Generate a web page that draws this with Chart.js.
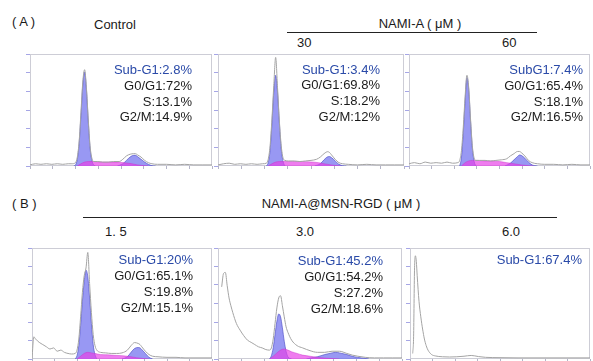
<!DOCTYPE html>
<html><head><meta charset="utf-8">
<script src="https://cdn.jsdelivr.net/npm/chart.js@4.4.0/dist/chart.umd.min.js"></script>
<style>
html,body{margin:0;padding:0;background:#fff;}
body{width:593px;height:361px;position:relative;overflow:hidden;font-family:"Liberation Sans",Arial,sans-serif;color:#1a1a1a;}
.t{position:absolute;font-size:13px;line-height:16px;white-space:nowrap;}
.c{text-align:center;}
.stats{position:absolute;font-size:13px;line-height:15.8px;text-align:right;white-space:nowrap;color:#1a1a1a;}
.stats .sub{color:#2a4aa8;}
.rule{position:absolute;height:1px;background:#222;}
canvas{position:absolute;}
</style></head><body>
<script>
// ---------- Data ----------
// (A) Control
const ctrlTotalX = [0,3,6,9,12,15,18,21,23,25,26,27,28,29,30,31,32,33,34,35,37,40,43,46,49,51,53,55,57,58,59,61,63,65,67,70,75,80,85,90,95,100];
const ctrlTotalY = [1,2,1.5,2,1.5,2,1.5,2,2,3,8,22,48,75,86,70,42,18,7,4,4,3.5,3.5,4,4,6,9,10.5,11,11,10,8,5,3,2,1.5,1.5,1,1.5,1,1,1];
const ctrlG1X = [24,25,26,27,28,29,30,31,32,33,34,35,36];
const ctrlG1Y = [0,1,6,20,45,72,84,68,40,16,5,1,0];
const ctrlSX = [26,28,30,32,35,40,45,50,53,56,59,62,65];
const ctrlSY = [0,2,3.5,4,4,3.5,3.5,3.2,2.7,2,1,0.4,0];
const ctrlG2X = [48,51,53,55,57,58,59,61,63,65,67,69];
const ctrlG2Y = [0,2,5,8,9.5,9.5,8.5,6,3.5,1.5,0.3,0];
const ctrlStats = ["Sub-G1:2.8%","G0/G1:72%","S:13.1%","G2/M:14.9%"];

// (A) NAMI-A 30 uM
const n30TotalX = [0,3,6,9,12,15,18,21,24,26,27,28,29,30,31,32,33,34,35,36,38,41,44,47,50,53,55,57,59,60,61,63,65,67,70,75,80,85,90,95,100];
const n30TotalY = [1,2,2.5,1.5,2,1.5,2,1.5,2,2.5,6,18,42,72,97,70,40,18,7,5,4.5,4.5,4,4.5,5,6,8,11,12.8,12,10,6,3,2,1.5,1,1.5,1,1,1,1];
const n30G1X = [26,27,28,29,30,31,32,33,34,35,36];
const n30G1Y = [0,3,14,38,66,81,66,38,15,4,0];
const n30SX = [27,29,31,33,36,40,45,50,54,57,60,63,66];
const n30SY = [0,2,3.5,4,4,4,4,3.6,3,2,1.2,0.5,0];
const n30G2X = [52,55,57,59,60,61,63,65,67,69];
const n30G2Y = [0,2,5.5,8.2,8.4,7.5,4.5,1.5,0.3,0];
const n30Stats = ["Sub-G1:3.4%","G0/G1:69.8%","S:18.2%","G2/M:12%"];

// (A) NAMI-A 60 uM
const n60TotalX = [0,3,6,9,12,15,18,21,24,27,28,29,30,31,32,33,34,35,36,37,39,42,45,48,51,54,56,58,60,61,62,64,66,68,71,75,80,85,90,95,100];
const n60TotalY = [2,3,2,3.5,2.5,3,2.5,3.5,2.5,3,5,14,35,62,81,70,42,18,7,5,5,5,4.5,5,5.5,6.5,9,11,13,13,12,9,5,3,2,1.5,1.5,1,1.5,1,1];
const n60G1X = [28,29,30,31,32,33,34,35,36,37];
const n60G1Y = [0,8,30,58,79,68,40,16,4,0];
const n60SX = [29,31,33,35,38,42,46,50,54,58,62,66,69];
const n60SY = [0,3,4.5,5,5,4.5,4.5,4,3,2,1,0.2,0];
const n60G2X = [53,56,58,60,61,62,64,66,68,71];
const n60G2Y = [0,2.5,5.5,8.5,9.8,9.5,7,3.5,1,0];
const n60Stats = ["SubG1:7.4%","G0/G1:65.4%","S:18.1%","G2/M:16.5%"];

// (B) NAMI-A@MSN-RGD 1.5 uM
const r15TotalX = [0,1,2,4,6,8,10,12,14,16,18,20,22,24,25,26,27,28,29,30,31,32,33,34,35,36,38,41,44,47,50,53,55,57,59,60,61,63,65,67,70,75,80,85,90,95,100];
const r15TotalY = [0,20,18,15,13,11,9,10,7,8,6,5,4.5,5,8,18,38,60,75,82,96,68,42,22,12,8,6,5.5,5,5,5.5,8,12,14.8,14,13,11,7,4,2.5,2,1.5,1.5,1,1,1,1];
const r15G1X = [24,25,26,27,28,29,30,31,32,33,34,35,36];
const r15G1Y = [0,3,12,30,52,70,80,74,55,32,13,4,0];
const r15SX = [25,27,29,31,33,35,38,42,46,50,54,58,62,65];
const r15SY = [0,2.5,5,6,5.5,5,4,3.8,3.3,3,2.3,1.2,0.4,0];
const r15G2X = [50,53,55,57,59,60,61,63,65,67];
const r15G2Y = [0,2,6,9.5,10.3,10,8.5,5,1.5,0];
const r15Stats = ["Sub-G1:20%","G0/G1:65.1%","S:19.8%","G2/M:15.1%"];

// (B) NAMI-A@MSN-RGD 3.0 uM
const r30TotalX = [2,3,4,5,6,7,8,10,12,14,16,18,20,22,24,26,28,29,30,31,32,33,34,35,36,37,38,40,43,46,50,54,58,62,66,70,73,76,80,85,90,95,100];
const r30TotalY = [65,77,78,66,55,48,42,32,26,21,17,15,13,11,10,8.5,8,10,18,32,46,55,57,48,38,29,24,17,12,10,7.5,6,6,7,7,5,3.5,2.5,1.5,1,1,1,1];
const r30G1X = [28,29,30,31,32,33,34,35,36,37,38,40];
const r30G1Y = [0,3,10,22,34,40.6,38,28,16,7,2,0];
const r30SX = [28,30,32,34,36,38,40,43,46,50,54,58,62,66];
const r30SY = [0,2.5,5.5,8,9,8,6.5,5,3.5,2.5,1.5,0.8,0.4,0];
const r30G2X = [48,50,54,58,62,64,66,70,74,78,82];
const r30G2Y = [0,0.8,2,4,5.5,6,5.5,4,2,1,0];
const r30Stats = ["Sub-G1:45.2%","G0/G1:54.2%","S:27.2%","G2/M:18.6%"];

// (B) NAMI-A@MSN-RGD 6.0 uM
const r60TotalX = [1.5,2,2.5,3,3.5,4,5,6,7,8,9,10,12,14,18,22,26,30,34,38,42,50,60,70,80,90,100];
const r60TotalY = [5,20,80,93,88,75,52,38,27,18,12,8,4,2.8,2,1.8,2,2.5,3.2,2.2,1.5,1.2,1,1,1,1,1];
const r60Stats = ["Sub-G1:67.4%"];

// Header / tick labels
const rowALabel = "( A )", rowBLabel = "( B )";
const controlLabel = "Control";
const groupALabel = "NAMI-A ( μM )";
const groupBLabel = "NAMI-A@MSN-RGD ( μM )";
const doseALabels = ["30","60"];
const doseBLabels = ["1. 5","3.0","6.0"];

// ---------- Layout ----------
function addText(txt, css, cls){
  const d=document.createElement('div'); d.className=cls||'t'; d.textContent=txt;
  Object.assign(d.style, css); document.body.appendChild(d); return d;
}
function addRule(l,w,t){ const d=document.createElement('div'); d.className='rule';
  Object.assign(d.style,{left:l+'px',width:w+'px',top:t+'px'}); document.body.appendChild(d); }

addText(rowALabel,{left:'12px',top:'14px'});
addText(controlLabel,{left:'94px',top:'17px'});
addText(groupALabel,{left:'320px',width:'200px',top:'16px'},'t c');
addRule(287,250,32);
addText(doseALabels[0],{left:'297px',top:'35px'});
addText(doseALabels[1],{left:'502px',top:'35px'});
addText(rowBLabel,{left:'12px',top:'196px'});
addText(groupBLabel,{left:'241px',width:'200px',top:'196px'},'t c');
addRule(83,474,217);
addText(doseBLabels[0],{left:'105px',top:'224px'});
addText(doseBLabels[1],{left:'296px',top:'224px'});
addText(doseBLabels[2],{left:'502px',top:'224px'});

const framePlugin = {
  id:'frame',
  beforeDatasetsDraw(chart){
    const a=chart.chartArea, c=chart.ctx;
    c.save(); c.strokeStyle='#cdcdd6'; c.lineWidth=1;
    c.strokeRect(Math.round(a.left)+0.5, Math.round(a.top)+0.5, Math.round(a.right-a.left)-1, Math.round(a.bottom-a.top)-1);
    c.restore();
  }
};

function pts(xs, ys){ return xs.map((x,i)=>({x:x, y:ys[i]})); }

const blueFill = 'rgba(112,112,238,0.72)', blueEdge = 'rgba(80,80,200,0.85)';

function makePanel(rect, series, stats, statsTop, statsRight, lh){
  const W = rect.r-rect.l, H = rect.b-rect.t;
  const cv = document.createElement('canvas');
  cv.width = W+5; cv.height = H+5;
  cv.style.left=(rect.l-4)+'px'; cv.style.top=(rect.t-1)+'px';
  cv.style.width=(W+5)+'px'; cv.style.height=(H+5)+'px';
  document.body.appendChild(cv);
  const ds = [];
  ds.push({data:pts(series.tx,series.ty), borderColor:'#a4a4a4', borderWidth:1, fill:false});
  if(series.sx) ds.push({data:pts(series.sx,series.sy), backgroundColor:'rgba(232,64,232,0.68)', borderColor:'rgba(205,50,205,0.8)', borderWidth:0.6, fill:'origin'});
  if(series.g1x) ds.push({data:pts(series.g1x,series.g1y), backgroundColor:blueFill, borderColor:blueEdge, borderWidth:0.8, fill:'origin'});
  if(series.g2x) ds.push({data:pts(series.g2x,series.g2y), backgroundColor:blueFill, borderColor:blueEdge, borderWidth:0.8, fill:'origin'});
  new Chart(cv, {
    type:'line',
    data:{datasets:ds},
    options:{
      responsive:false, animation:false, devicePixelRatio:1,
      layout:{padding:{top:1,right:1,left:0,bottom:0}},
      elements:{point:{radius:0}, line:{cubicInterpolationMode:'monotone'}},
      plugins:{legend:{display:false}, tooltip:{enabled:false}},
      scales:{
        x:{type:'linear', min:0, max:100,
           ticks:{display:false, count:9},
           grid:{display:true, drawOnChartArea:false, drawTicks:true, tickLength:3, color:'#b4b4c8'},
           border:{display:false},
           afterFit(s){ s.height=4; }},
        y:{type:'linear', min:0, max:100,
           ticks:{display:false, count:7},
           grid:{display:true, drawOnChartArea:false, drawTicks:true, tickLength:4, color:'#a6a6e6'},
           border:{display:false},
           afterFit(s){ s.width=4; }}
      }
    },
    plugins:[framePlugin]
  });
  const box=document.createElement('div'); box.className='stats';
  box.style.top=statsTop+'px'; box.style.right=(593-statsRight)+'px'; box.style.lineHeight=lh+'px';
  stats.forEach((s,i)=>{ const l=document.createElement('div'); l.textContent=s; if(i===0) l.className='sub'; box.appendChild(l); });
  document.body.appendChild(box);
}

makePanel({l:30,t:54,r:212,b:166},{tx:ctrlTotalX,ty:ctrlTotalY,g1x:ctrlG1X,g1y:ctrlG1Y,sx:ctrlSX,sy:ctrlSY,g2x:ctrlG2X,g2y:ctrlG2Y},ctrlStats,62,192,15.8);
makePanel({l:218,t:54,r:404,b:166},{tx:n30TotalX,ty:n30TotalY,g1x:n30G1X,g1y:n30G1Y,sx:n30SX,sy:n30SY,g2x:n30G2X,g2y:n30G2Y},n30Stats,61.5,380,15.8);
makePanel({l:409,t:54,r:590,b:166},{tx:n60TotalX,ty:n60TotalY,g1x:n60G1X,g1y:n60G1Y,sx:n60SX,sy:n60SY,g2x:n60G2X,g2y:n60G2Y},n60Stats,62,583,15.8);
makePanel({l:32,t:248,r:212,b:359},{tx:r15TotalX,ty:r15TotalY,g1x:r15G1X,g1y:r15G1Y,sx:r15SX,sy:r15SY,g2x:r15G2X,g2y:r15G2Y},r15Stats,252,193,16);
makePanel({l:218,t:248,r:402,b:359},{tx:r30TotalX,ty:r30TotalY,g1x:r30G1X,g1y:r30G1Y,sx:r30SX,sy:r30SY,g2x:r30G2X,g2y:r30G2Y},r30Stats,253,383,16);
makePanel({l:410,t:248,r:590,b:359},{tx:r60TotalX,ty:r60TotalY},r60Stats,252,582,16);
</script>
</body></html>
